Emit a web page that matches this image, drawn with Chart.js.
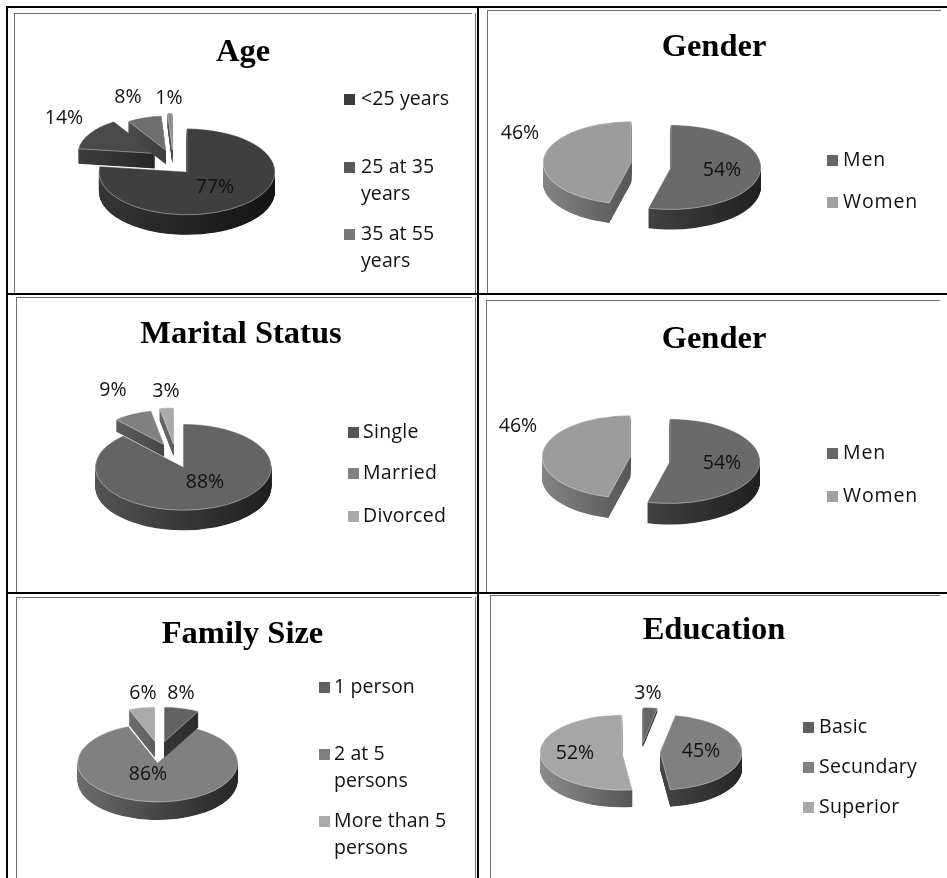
<!DOCTYPE html>
<html>
<head>
<meta charset="utf-8">
<title>Sample profile</title>
<script src="https://cdn.jsdelivr.net/npm/chart.js@4"></script>
<style>
    html, body { margin: 0; padding: 0; background: #fff; overflow: hidden; }
    #page { position: relative; width: 947px; height: 878px; filter: blur(0.45px); }
    #page canvas { position: absolute; }
    .rule { position: absolute; }
    .black { background: #000; }
    .grey { background: #707070; }
</style>
</head>
<body>
<div id="page"></div>
<script>
// values
const ageLabels = [["<25 years"], ["25 at 35", "years"], ["35 at 55", "years"]];
const ageSlices = ["<25 years", "25 at 35 years", "35 at 55 years", "Over 55 years"];
const ageValues = [77, 14, 8, 1];

const genderLabels = [["Men"], ["Women"]];
const genderValues = [54, 46];

const maritalLabels = [["Single"], ["Married"], ["Divorced"]];
const maritalValues = [88, 9, 3];

const familyLabels = [["1 person"], ["2 at 5", "persons"], ["More than 5", "persons"]];
const familyValues = [8, 86, 6];

const educationLabels = [["Basic"], ["Secundary"], ["Superior"]];
const educationValues = [3, 45, 52];

const FONT = '"Open Sans", sans-serif';

// layout of each panel, in page pixels
const panels = [
    {
        title: "Age", labels: ageLabels, values: ageValues,
        colors: ["#3f3f3f", "#494949", "#6e6e6e", "#8c8c8c"],
        legendColors: ["#3c3c3c", "#585858", "#787878"],
        box: [14, 14, 458, 279], titleY: 51,
        center: [173, 164], radius: 88, squash: 0.49, wall: [20, 15, 14, 14],
        explode: [21, 21, 23, 23], shrink: [1, 0.88, 0.8, 0.85], lift: [0, -5, -3, -3],
        pctPos: [[215, 187], [64, 118], [128, 97], [169, 98]],
        legendX: 344, textX: 361, legendY: [99, 167, 234], spacing: 0.1
    },
    {
        title: "Gender", labels: genderLabels, values: genderValues,
        colors: ["#6a6a6a", "#9c9c9c"],
        legendColors: ["#666666", "#a0a0a0"],
        box: [488, 11, 452, 282], titleY: 46,
        center: [651, 166], radius: 90, squash: 0.47, wall: [20, 20],
        explode: [20, 20], shrink: [1, 0.98], lift: [0, -2],
        pctPos: [[722, 170], [520, 133]],
        legendX: 827, textX: 843, legendY: [160, 202], spacing: 0.9
    },
    {
        title: "Marital Status", labels: maritalLabels, values: maritalValues,
        colors: ["#646464", "#808080", "#aaaaaa"],
        legendColors: ["#555555", "#808080", "#aaaaaa"],
        box: [17, 298, 448, 294], titleY: 333,
        center: [176, 458], radius: 88, squash: 0.49, wall: [20, 12, 12],
        explode: [20, 26, 26], shrink: [1, 0.8, 0.85], lift: [0, -2, -1],
        pctPos: [[205, 482], [113, 390], [166, 391]],
        legendX: 348, textX: 363, legendY: [432, 473, 516], spacing: 0.3
    },
    {
        title: "Gender", labels: genderLabels, values: genderValues,
        colors: ["#6a6a6a", "#9c9c9c"],
        legendColors: ["#666666", "#a0a0a0"],
        box: [488, 301, 452, 291], titleY: 338,
        center: [650, 460], radius: 90, squash: 0.47, wall: [21, 21],
        explode: [20, 20], shrink: [1, 0.98], lift: [0, -2],
        pctPos: [[722, 463], [518, 426]],
        legendX: 827, textX: 843, legendY: [453, 496], spacing: 0.9
    },
    {
        title: "Family Size", labels: familyLabels, values: familyValues,
        colors: ["#626262", "#808080", "#aaaaaa"],
        legendColors: ["#606060", "#808080", "#aaaaaa"],
        box: [17, 598, 451, 280], titleY: 633,
        center: [159, 752], radius: 80, squash: 0.49, wall: [16, 18, 16],
        explode: [22, 22, 22], shrink: [0.88, 1, 0.88], lift: [0, 0, 0],
        pctPos: [[181, 693], [148, 774], [143, 693]],
        legendX: 319, textX: 334, legendY: [687, 754, 821], spacing: 0.1
    },
    {
        title: "Education", labels: educationLabels, values: educationValues,
        colors: ["#666666", "#808080", "#a6a6a6"],
        legendColors: ["#606060", "#808080", "#a8a8a8"],
        box: [491, 596, 446, 282], titleY: 629,
        center: [641, 752], radius: 82, squash: 0.46, wall: [4, 17, 17],
        explode: [19, 19, 19], shrink: [0.95, 1, 1], lift: [0, 0, 0],
        pctPos: [[648, 693], [701, 751], [575, 753]],
        legendX: 803, textX: 819, legendY: [727, 767, 807], spacing: 0.3
    }
];

// frame lines of the table: [x, y, w, h, class]
const rules = [
    [6, 6, 941, 2, "black"], [6, 6, 2, 872, "black"], [477, 6, 2, 872, "black"],
    [6, 293, 941, 2, "black"], [6, 592, 941, 2, "black"],
    [14, 13, 458, 1, "grey"], [14, 13, 1, 280, "grey"], [475, 13, 1, 280, "grey"],
    [487, 10, 454, 1, "grey"], [487, 10, 1, 283, "grey"],
    [16, 297, 456, 1, "grey"], [16, 297, 1, 295, "grey"], [475, 297, 1, 295, "grey"],
    [486, 300, 454, 1, "grey"], [486, 300, 1, 292, "grey"],
    [16, 597, 456, 1, "grey"], [16, 597, 1, 281, "grey"], [475, 597, 1, 281, "grey"],
    [490, 595, 450, 1, "grey"], [490, 595, 1, 283, "grey"]
];

function shade(hex, f) {
    const n = parseInt(hex.slice(1), 16);
    const c = [(n >> 16) & 255, (n >> 8) & 255, n & 255].map(v => Math.round(v * f));
    return "rgb(" + c.join(",") + ")";
}

// draws the flattened, exploded pie with its wall from the chart's own arc elements
const pie3d = {
    id: "pie3d",
    beforeDatasetDraw(chart, args, opts) {
        const p = opts.panel;
        const ctx = chart.ctx;
        const arcs = chart.getDatasetMeta(args.index).data;
        const order = arcs.map((a, i) => i).sort((a, b) => p.values[b] - p.values[a]);

        order.forEach(i => {
            const arc = arcs[i];
            const base = arc.options;
            const fullRadius = arc.outerRadius;
            const mid = (arc.startAngle + arc.endAngle) / 2;

            ctx.save();
            ctx.translate(p.center[0] - p.box[0], p.center[1] - p.box[1] + p.lift[i]);
            ctx.scale(1, p.squash);
            ctx.translate(-arc.x, -arc.y);
            ctx.translate(Math.cos(mid) * p.explode[i], Math.sin(mid) * p.explode[i]);
            arc.outerRadius = fullRadius * p.shrink[i];

            const wall = ctx.createLinearGradient(arc.x - p.radius, 0, arc.x + p.radius, 0);
            wall.addColorStop(0, shade(p.colors[i], 0.85));
            wall.addColorStop(0.5, shade(p.colors[i], 0.55));
            wall.addColorStop(1, shade(p.colors[i], 0.3));
            arc.options = Object.assign({}, base, { backgroundColor: wall, borderWidth: 0 });
            for (let d = p.wall[i]; d > 0; d -= 0.5) {
                ctx.save();
                ctx.translate(0, d / p.squash);
                arc.draw(ctx);
                ctx.restore();
            }
            arc.options = base;
            arc.draw(ctx);

            arc.outerRadius = fullRadius;
            ctx.restore();
        });
        return false;
    },
    afterDraw(chart, args, opts) {
        const p = opts.panel;
        const ctx = chart.ctx;
        const ox = p.box[0], oy = p.box[1];
        ctx.save();
        ctx.font = "19.5px " + FONT;
        ctx.fillStyle = "#111";
        ctx.textBaseline = "middle";

        ctx.textAlign = "center";
        p.values.forEach((v, i) => {
            ctx.fillText(v + "%", p.pctPos[i][0] - ox, p.pctPos[i][1] - oy);
        });

        ctx.textAlign = "left";
        ctx.letterSpacing = p.spacing + "px";
        p.labels.forEach((lines, i) => {
            ctx.fillStyle = p.legendColors[i];
            ctx.fillRect(p.legendX - ox, p.legendY[i] - 5 - oy, 11, 11);
            ctx.fillStyle = "#111";
            lines.forEach((line, j) => {
                ctx.fillText(line, p.textX - ox, p.legendY[i] + j * 27 - oy);
            });
        });
        ctx.restore();
    }
};

const page = document.getElementById("page");

rules.forEach(r => {
    const div = document.createElement("div");
    div.className = "rule " + r[4];
    div.style.cssText = "left:" + r[0] + "px;top:" + r[1] + "px;width:" + r[2] + "px;height:" + r[3] + "px";
    page.appendChild(div);
});

panels.forEach(p => {
    const canvas = document.createElement("canvas");
    canvas.width = p.box[2];
    canvas.height = p.box[3];
    canvas.style.left = p.box[0] + "px";
    canvas.style.top = p.box[1] + "px";
    page.appendChild(canvas);

    new Chart(canvas, {
        type: "pie",
        data: {
            labels: p.values === ageValues ? ageSlices : p.labels.map(l => l.join(" ")),
            datasets: [{
                data: p.values,
                backgroundColor: p.colors,
                borderColor: "rgba(255,255,255,0.55)",
                borderWidth: 1
            }]
        },
        options: {
            responsive: false,
            animation: false,
            events: [],
            radius: p.radius,
            plugins: {
                legend: { display: false },
                tooltip: { enabled: false },
                title: {
                    display: true,
                    text: p.title,
                    color: "#000",
                    font: { family: '"Liberation Serif", serif', size: 32.5, weight: "bold", lineHeight: 1.2 },
                    padding: { top: p.titleY - p.box[1] - 18, bottom: 0 }
                },
                pie3d: { panel: p }
            }
        },
        plugins: [pie3d]
    });
});
</script>
</body>
</html>
